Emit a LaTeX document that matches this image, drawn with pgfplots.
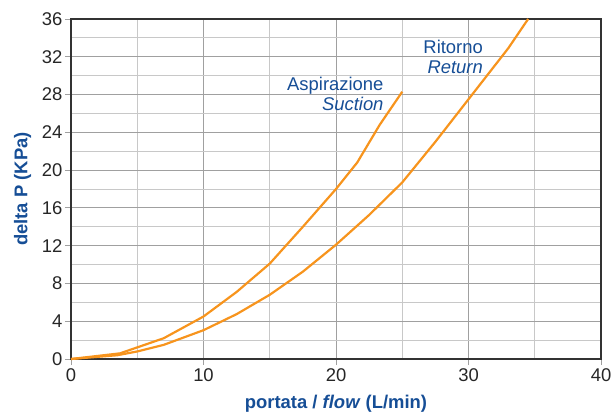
\documentclass[border=0pt]{standalone}
\usepackage{fontspec}
\setmainfont{Liberation Sans}
\usepackage{pgfplots}
\pgfplotsset{compat=1.18}
\definecolor{curve}{RGB}{247,148,29}
\definecolor{lblue}{RGB}{22,78,150}
\definecolor{gmaj}{RGB}{160,160,160}
\definecolor{gmin}{RGB}{200,200,200}
\begin{document}
\begin{tikzpicture}
\begin{axis}[
  name=ax,
  scale only axis,
  width=530bp, height=340bp,
  xmin=0, xmax=40, ymin=0, ymax=36,
  xtick={0,10,20,30,40},
  ytick={0,4,...,36},
  minor xtick={5,15,25,35},
  minor ytick={2,6,...,34},
  grid=both,
  major grid style={gmaj, line width=0.9pt},
  minor grid style={gmin, line width=0.9pt},
  axis line style={draw=black!80, line width=1.1pt},
  tick align=outside,
  tick pos=left,
  major tick length=6bp,
  minor tick length=0pt,
  tick style={gmaj, line width=0.9pt},
  /pgf/number format/assume math mode=true,
  tick label style={font=\fontsize{18.5}{18}\selectfont, text=black!85},
  yticklabel style={xshift=1bp},
  xlabel={\textbf{portata / \textit{flow} (L/min)}},
  ylabel={\textbf{delta P (KPa)}},
  label style={font=\fontsize{18.5}{18}\selectfont, text=lblue},
  xlabel style={yshift=-7bp},
  ylabel style={yshift=4bp},
  clip=false,
]
\addplot[curve, line width=2.2pt, line join=round] coordinates {
(0,0) (3.7,0.6) (7,2.2) (10,4.5) (12.5,7.1) (15,10.1) (17.5,14) (20,18) (21.6,20.8) (23.3,24.8) (25,28.3)
};
\addplot[curve, line width=2.2pt, line join=round] coordinates {
(0,0) (3.5,0.4) (5,0.8) (7,1.5) (10,3.05) (12.5,4.75) (15,6.8) (17.5,9.25) (20,12.1) (22.5,15.25) (25,18.7) (27.5,23) (30,27.5) (31.5,30.2) (33,32.9) (34.5,36)
};
\node[anchor=east, align=right, text=lblue, font=\fontsize{18.5}{20}\selectfont, inner sep=0pt] at (axis cs:23.6,28.1) {Aspirazione\\\textit{Suction}};
\node[anchor=east, align=right, text=lblue, font=\fontsize{18.5}{20}\selectfont, inner sep=0pt] at (axis cs:31.1,32.0) {Ritorno\\\textit{Return}};
\end{axis}
\pgfresetboundingbox
\path[use as bounding box] ([shift={(-71bp,-53bp)}]ax.south west) rectangle ([shift={(13bp,19bp)}]ax.north east);
\end{tikzpicture}
\end{document}
